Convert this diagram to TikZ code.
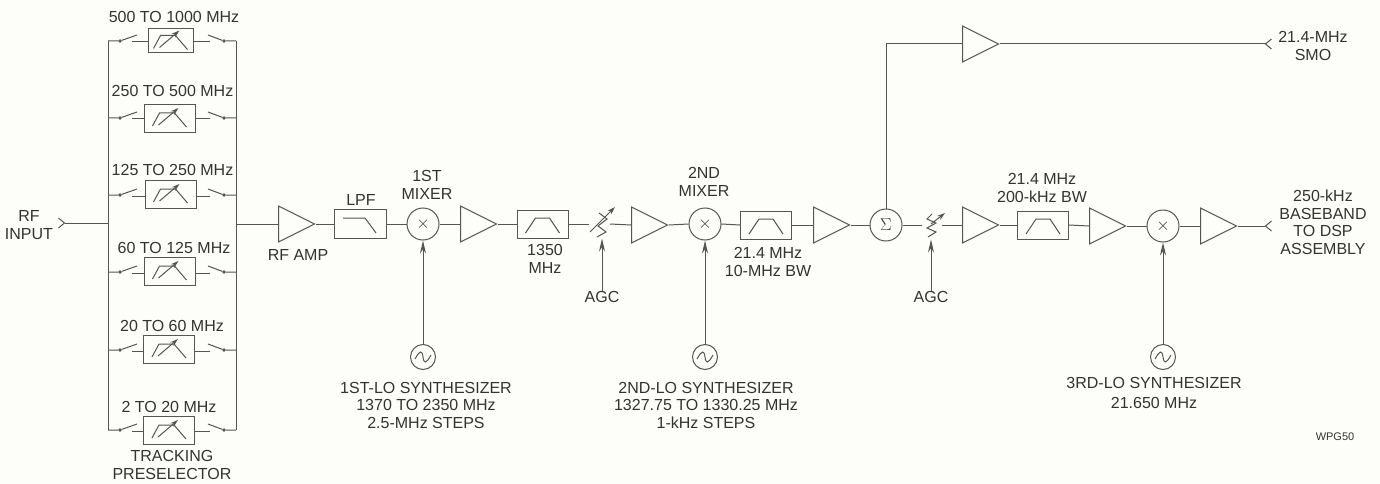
\documentclass[tikz,border=0pt]{standalone}
\usepackage{fontspec}
\setmainfont{Liberation Sans}
\usepackage{xcolor}
\usepackage{tikz}
\usetikzlibrary{shapes.geometric, arrows.meta, calc}
\definecolor{paper}{HTML}{FDFDF9}
\definecolor{ink}{HTML}{555553}
\definecolor{txt}{HTML}{333331}

\begin{document}
\begin{tikzpicture}[
    x=1pt, y=-1pt, color=ink, line width=1pt,
    lbl/.style={text=txt, align=center, inner sep=0pt, font=\fontsize{16}{17.5}\selectfont},
    amp/.style={isosceles triangle, isosceles triangle stretches, draw=ink, fill=paper, anchor=west, minimum width=36pt, minimum height=36pt, inner sep=0pt},
    filtbox/.style={rectangle, draw=ink, fill=paper, minimum width=51pt, minimum height=28pt, inner sep=0pt},
    ring/.style={circle, draw=ink, fill=paper, minimum size=32pt, inner sep=0pt, text=txt, font=\fontsize{16}{17}\selectfont},
    swdot/.style={circle, draw=ink, fill=ink, minimum size=2.5pt, inner sep=0pt},
    agcarrow/.style={-{Stealth[length=13pt,width=6pt]}},
    jackin/.style={{Straight Barb[reversed,length=6pt,width=10pt]}-},
    jackout/.style={-{Straight Barb[reversed,length=6pt,width=10pt]}},
    lpficon/.style={path picture={\draw[shift={(path picture bounding box.center)}] (-17,-6) -- (5,-6) -- (16,9);}},
    bpficon/.style={path picture={\draw[shift={(path picture bounding box.center)}] (-17,9) -- (-7,-6) -- (7,-6) -- (17,9);}},
    osc/.style={circle, draw=ink, fill=paper, minimum size=25pt, inner sep=0pt, path picture={\draw[shift={(path picture bounding box.center)}] (-8,2) .. controls (-3,-7) and (-1,-7) .. (0,0) .. controls (1,7) and (3,7) .. (8,-2);}},
    tuneicon/.style={path picture={\draw[shift={(path picture bounding box.center)}, xscale=#1] (-17,7.5) -- (-10,-5.5) -- (5,-5.5) -- (17,8.5); \draw[shift={(path picture bounding box.center)}, xscale=#1, -{Stealth[length=8pt,width=5pt]}] (-11,6.5) -- (9,-10.5);}}
]
\fill[paper] (0,0) rectangle (1380,484);
\useasboundingbox (0,0) rectangle (1380,484);

% preselector rails
\coordinate (railtl) at (108,41);
\coordinate (railbl) at (108,430);
\coordinate (railtr) at (236,41);
\coordinate (railbr) at (236,430);
\draw (railtl) -- (railbl);
\draw (railtr) -- (railbr);

% preselector rows
\node[filtbox, minimum width=45pt, minimum height=24pt, tuneicon=0.68] (pre1) at (170.5,41) {};
\foreach \i/\cx/\cy in {2/169.5/118.5, 3/170.5/194.5, 4/169.5/271.5, 5/169/349.5, 6/169/430.5}
    \node[filtbox, tuneicon=1] (pre\i) at (\cx,\cy) {};
\foreach \i/\yy in {1/41, 2/118, 3/195, 4/272, 5/350, 6/430} {
    \node[swdot] (swl\i) at (120,\yy) {};
    \node[swdot] (swr\i) at (224,\yy) {};
    \coordinate (bll\i) at (137,\yy-6);
    \coordinate (blr\i) at (208,\yy-6);
    \coordinate (stl\i) at (132,\yy+1);
    \coordinate (str\i) at (210,\yy+1);
    \draw (railtl |- swl\i) -- (swl\i) -- (bll\i);
    \draw (railtr |- swr\i) -- (swr\i) -- (blr\i);
    \draw (stl\i) -- (stl\i -| pre\i.west);
    \draw (str\i) -- (str\i -| pre\i.east);
}
\node[lbl] (lab1) at (174,17) {500 TO 1000 MHz};
\node[lbl] (lab2) at (172.5,91) {250 TO 500 MHz};
\node[lbl] (lab3) at (172.5,170) {125 TO 250 MHz};
\node[lbl] (lab4) at (174,248) {60 TO 125 MHz};
\node[lbl] (lab5) at (172,326) {20 TO 60 MHz};
\node[lbl] (lab6) at (169,407) {2 TO 20 MHz};
\node[lbl] (track) at (172,465) {TRACKING\\PRESELECTOR};

% main chain
\node[lbl] (rfin) at (29,225) {RF\\INPUT};
\coordinate (injack) at (58,223);
\coordinate (inrail) at (108,223);
\coordinate (outrail) at (236,224);
\node[amp] (amprf) at (278,224) {};
\node[filtbox, minimum width=52pt, minimum height=29pt, lpficon] (lpf) at (360,224) {};
\node[ring] (mixa) at (423,224) {$\times$};
\node[amp] (ampa) at (460,224) {};
\node[filtbox, bpficon] (bpfa) at (542.5,224) {};
\coordinate (atta) at (602,224);
\node[amp] (ampb) at (631,225) {};
\node[ring] (mixb) at (705,224) {$\times$};
\node[filtbox, bpficon] (bpfb) at (766,225) {};
\node[amp] (ampc) at (813,225) {};
\node[ring] (summer) at (886,225) {$\Sigma$};
\coordinate (attb) at (931,225);
\node[amp] (ampd) at (962,225) {};
\node[filtbox, bpficon] (bpfc) at (1043,225) {};
\node[amp] (ampe) at (1089,226) {};
\node[ring] (mixc) at (1163,226) {$\times$};
\node[amp] (ampf) at (1200,226) {};
\coordinate (outjack) at (1272,226);

\draw[jackin] (injack) -- (inrail);
\foreach \a/\b in {outrail/amprf.west, amprf.east/lpf.west, lpf.east/mixa.west, mixa.east/ampa.west, ampa.east/bpfa.west, ampb.east/mixb.west, mixb.east/bpfb.west, bpfb.east/ampc.west, ampc.east/summer.west, ampd.east/bpfc.west, bpfc.east/ampe.west, ampe.east/mixc.west, mixc.east/ampf.west}
    \draw (\a) -- (\b);
\draw[jackout] (ampf.east) -- (outjack);

% attenuators
\draw (bpfa.east) -- ($(atta)+(-13,0)$);
\draw ($(atta)+(8,0)$) -- (ampb.west);
\draw (597,237) -- (606,232) -- (598,226) -- (607,219) -- (599,213);
\draw[-{Stealth[length=8pt,width=5pt]}] (590,232) -- (615,207);
\draw (summer.east) -- ($(attb)+(-9,0)$);
\draw ($(attb)+(11,0)$) -- (ampd.west);
\draw (928,237) -- (936,232) -- (927,228) -- (936,223) -- (927,219) -- (932,214);
\draw[-{Stealth[length=8pt,width=5pt]}] (931,224) -- (945,213);

% sum output
\node[amp] (ampsmo) at (962,44) {};
\coordinate (smocorner) at (summer |- ampsmo);
\coordinate (smojack) at (1272,44);
\draw (summer.north) -- (smocorner) -- (ampsmo.west);
\draw[jackout] (ampsmo.east) -- (smojack);
\node[lbl] (smo) at (1313,46) {21.4-MHz\\SMO};
\node[lbl] (outlbl) at (1323,222.5) {250-kHz\\BASEBAND\\TO DSP\\ASSEMBLY};

% chain labels
\node[lbl] at (298,255) (amplbl) {RF AMP};
\node[lbl] at (361,200) (lpflbl) {LPF};
\node[lbl] at (427,185) (mixalbl) {1ST\\MIXER};
\node[lbl] at (545,259) (bpfalbl) {1350\\MHz};
\node[lbl] at (704,182) (mixblbl) {2ND\\MIXER};
\node[lbl] at (768,262) (bpfblbl) {21.4 MHz\\10-MHz BW};
\node[lbl] at (1042,188) (bpfclbl) {21.4 MHz\\200-kHz BW};

% AGC
\node[lbl] (agca) at (602,297) {AGC};
\node[lbl] (agcb) at (931,297) {AGC};
\draw[agcarrow] (agca.north) -- (atta |- bpfa.south);
\draw[agcarrow] (agcb.north) -- (attb |- bpfb.south);

% local oscillators
\foreach \m/\o/\x in {mixa/loa/423, mixb/lob/705, mixc/loc/1163} {
    \node[osc] (\o) at (\x,357) {};
    \draw[agcarrow] (\o.north) -- (\m.south);
}
\node[lbl] (loalbl) at (426,405) {1ST-LO SYNTHESIZER\\1370 TO 2350 MHz\\2.5-MHz STEPS};
\node[lbl] (loblbl) at (706,405) {2ND-LO SYNTHESIZER\\1327.75 TO 1330.25 MHz\\1-kHz STEPS};
\node[lbl] (loclbl) at (1154,393) {3RD-LO SYNTHESIZER\\[2pt]21.650 MHz};
\node[lbl, font=\fontsize{11}{12}\selectfont] (wpg) at (1335,437) {WPG50};
\end{tikzpicture}
\end{document}
